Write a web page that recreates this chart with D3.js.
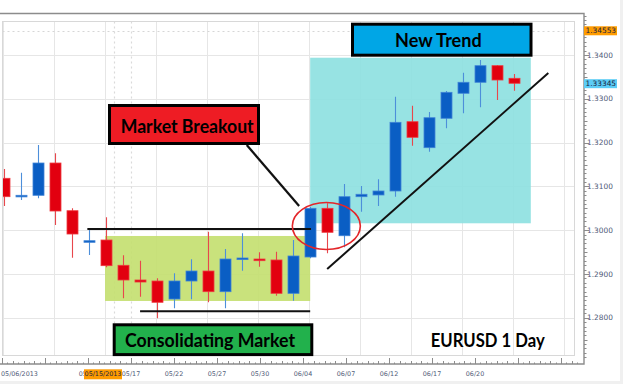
<!DOCTYPE html>
<html>
<head>
<meta charset="utf-8">
<script src="https://cdn.jsdelivr.net/npm/d3@7"></script>
<style>
body { margin:0; background:#fff; }
svg { display:block; }
</style>
</head>
<body>
<div class="canvas"></div>
<script>
// daily candles EURUSD
const dates = ["05/06","05/07","05/08","05/09","05/10","05/13","05/14","05/15","05/16","05/17",
  "05/20","05/21","05/22","05/23","05/24","05/27","05/28","05/29","05/30","05/31",
  "06/03","06/04","06/05","06/06","06/07","06/10","06/11","06/12","06/13","06/14","06/17"];
const open  = [1.31185,1.30765,1.30797,1.31534,1.30445,1.29724,1.29776,1.29199,1.28863,1.28840,
  1.28429,1.28840,1.29068,1.28596,1.29336,1.29342,1.29320,1.28559,1.29388,1.30500,
  1.29874,1.30765,1.30804,1.30895,1.32477,1.31884,1.32555,1.33126,1.33377,1.33756,1.33468];
const high  = [1.31397,1.31313,1.31945,1.31756,1.30500,1.30005,1.30295,1.29427,1.29304,1.28902,
  1.29016,1.29336,1.29966,1.29571,1.29929,1.29495,1.29509,1.29776,1.30537,1.30614,
  1.31055,1.31009,1.31162,1.33048,1.32842,1.32699,1.33178,1.33596,1.33886,1.33770,1.33566];
const low   = [1.30553,1.30689,1.30728,1.30119,1.29372,1.29434,1.29153,1.28445,1.28482,1.27989,
  1.28217,1.28422,1.28354,1.28217,1.29075,1.29167,1.28505,1.28390,1.29358,1.29473,
  1.29610,1.30422,1.30553,1.30765,1.31929,1.31792,1.32326,1.32669,1.32806,1.32973,1.33185];
const close = [1.30765,1.30797,1.31534,1.30438,1.29913,1.29760,1.29190,1.28863,1.28817,1.28354,
  1.28840,1.29068,1.28596,1.29342,1.29365,1.29304,1.28559,1.29411,1.30500,1.29952,
  1.30765,1.30820,1.30895,1.32463,1.32121,1.32568,1.33148,1.33377,1.33756,1.33429,1.33354];

const priceTicks = [1.28, 1.29, 1.30, 1.31, 1.32, 1.33, 1.34];
const xTickLabels = ["05/06/2013","","05/14","05/17","05/22","05/27","05/30","06/04","06/07","06/12","06/17","06/20"];
const highlightDate = "05/15/2013";
const priceMarkers = [
  {label:"1.34553", value:1.34553, color:"#ff9c00"},
  {label:"1.33345", value:1.33345, color:"#5ccdf6"}
];

const dimension = {'width':623, 'height':384};
const plot = {'left':2.5, 'top':21.5, 'right':574.5, 'bottom':355.5};
const frame = {'top':13.5, 'right':584, 'bottom':364};

const svg = d3.select('.canvas')
              .append('svg')
              .attr('width', dimension.width)
              .attr('height', dimension.height);

// grey margins of the screenshot
svg.append('rect').attr('x',0).attr('y',381).attr('width',623).attr('height',3).attr('fill','#f0f0f0');
svg.append('rect').attr('x',620).attr('y',0).attr('width',3).attr('height',384).attr('fill','#f0f0f0');

// scales
const x = d3.scaleLinear().domain([0, dates.length - 1]).range([4, 514.3]);
const y = d3.scaleLinear().domain([1.28, 1.34]).range([317.8, 55]);
const xAxis = d3.scalePoint().domain(d3.range(xTickLabels.length)).range([2, 475]);

svg.append('clipPath').attr('id','plotclip')
   .append('rect')
   .attr('x', plot.left).attr('y', plot.top)
   .attr('width', plot.right - plot.left).attr('height', plot.bottom - plot.top);

const graph = svg.append('g').attr('clip-path','url(#plotclip)');

// grid
graph.selectAll('.hgrid').data(priceTicks).enter().append('line')
     .attr('x1', plot.left).attr('x2', plot.right)
     .attr('y1', d => Math.round(y(d)) + 0.5).attr('y2', d => Math.round(y(d)) + 0.5)
     .attr('stroke','#e6e6e6');
graph.selectAll('.vgrid').data(d3.range(0, 34, 3)).enter().append('line')
     .attr('x1', d => Math.round(x(d)) - 0.5).attr('x2', d => Math.round(x(d)) - 0.5)
     .attr('y1', plot.top).attr('y2', plot.bottom)
     .attr('stroke','#e6e6e6');

// dotted lines: last high and selected day
graph.append('line')
     .attr('x1', plot.left).attr('x2', plot.right)
     .attr('y1', Math.round(y(priceMarkers[0].value)) + 0.5).attr('y2', Math.round(y(priceMarkers[0].value)) + 0.5)
     .attr('stroke','#d6d6d6').attr('stroke-dasharray','2,3');
const selIdx = dates.indexOf(highlightDate.slice(0,5));
graph.selectAll('.vsel').data([selIdx - 0.5, selIdx + 0.5]).enter().append('line')
     .attr('x1', d => Math.round(x(d)) - 0.5).attr('x2', d => Math.round(x(d)) - 0.5)
     .attr('y1', plot.top).attr('y2', plot.bottom)
     .attr('stroke','#dadada').attr('stroke-width',1.2).attr('stroke-dasharray','2,3');

// shaded zones
graph.append('rect')
     .attr('x', x(5.94)).attr('y', y(1.29868))
     .attr('width', x(18) - x(5.94)).attr('height', y(1.28384) - y(1.29868))
     .attr('fill','#c3df6e').attr('opacity',0.9);
graph.append('rect')
     .attr('x', x(18)).attr('y', y(1.33938))
     .attr('width', x(30.97) - x(18)).attr('height', y(1.30158) - y(1.33938))
     .attr('fill','#8ee1e1').attr('opacity',0.92);

// candles
const candles = dates.map((d, i) => ({date:d, i:i, o:open[i], h:high[i], l:low[i], c:close[i]}));
const red = '#e2000f', redEdge = '#ee3a3f', blue = '#0a5ec4', blueEdge = '#3f83d6';
const bodyW = 11;

graph.selectAll('.wick').data(candles).enter().append('line')
     .attr('x1', d => Math.round(x(d.i)) + 0.5).attr('x2', d => Math.round(x(d.i)) + 0.5)
     .attr('y1', d => y(d.h)).attr('y2', d => y(d.l))
     .attr('stroke', d => d.c >= d.o ? '#4d8fda' : '#e8474c')
     .attr('stroke-width', 1.1);

graph.selectAll('.body').data(candles).enter().append('rect')
     .attr('x', d => Math.round(x(d.i)) + 0.5 - bodyW / 2)
     .attr('y', d => y(Math.max(d.o, d.c)))
     .attr('width', bodyW)
     .attr('height', d => Math.max(1.6, Math.abs(y(d.o) - y(d.c))))
     .attr('fill', d => d.c >= d.o ? blue : red)
     .attr('stroke', d => d.c >= d.o ? blueEdge : redEdge)
     .attr('stroke-width', 0.8);

// support / resistance lines
const hLines = [
  {from:4.9, to:18.05, p:1.30027},
  {from:8, to:18, p:1.28149}
];
graph.selectAll('.sr').data(hLines).enter().append('line')
     .attr('x1', d => x(d.from)).attr('x2', d => x(d.to))
     .attr('y1', d => y(d.p)).attr('y2', d => y(d.p))
     .attr('stroke','#111').attr('stroke-width',2);

// trend line
graph.append('line')
     .attr('x1', x(19)).attr('y1', y(1.29114))
     .attr('x2', x(32)).attr('y2', y(1.33589))
     .attr('stroke','#111').attr('stroke-width',2);

// breakout circle
graph.append('ellipse')
     .attr('cx', x(18.95)).attr('cy', y(1.30096))
     .attr('rx', 34).attr('ry', 23.5)
     .attr('fill','none').attr('stroke','#e3262a').attr('stroke-width',1.6);

// pointer from label
graph.append('line')
     .attr('x1', x(14.27)).attr('y1', y(1.31945))
     .attr('x2', x(17.35)).attr('y2', y(1.30553))
     .attr('stroke','#111').attr('stroke-width',2.2);

// inner plot border
svg.append('rect')
   .attr('x', plot.left).attr('y', plot.top)
   .attr('width', plot.right - plot.left).attr('height', plot.bottom - plot.top)
   .attr('fill','none').attr('stroke','#d8d8d8');

// outer frame
svg.append('path')
   .attr('d', `M0,${frame.top}H${frame.right}V${frame.bottom}H0`)
   .attr('fill','none').attr('stroke','#8c8c8c').attr('stroke-width',1.4);

// right price axis
const minorP = d3.range(1271, 1350).map(v => v / 1000).filter(v => y(v) > frame.top + 1 && y(v) < frame.bottom - 1);
svg.selectAll('.ptick').data(minorP).enter().append('line')
   .attr('x1', frame.right).attr('x2', (d, i) => frame.right + (Math.round(d * 1000) % 10 === 0 ? 5 : (Math.round(d * 1000) % 5 === 0 ? 3.5 : 2.5)))
   .attr('y1', d => Math.round(y(d)) + 0.5).attr('y2', d => Math.round(y(d)) + 0.5)
   .attr('stroke','#8c8c8c');
svg.selectAll('.plabel').data(priceTicks).enter().append('text')
   .attr('x', frame.right + 3).attr('y', d => y(d))
   .attr('dy','0.35em')
   .attr('font-family','DejaVu Sans').attr('font-size',7.4)
   .attr('fill','#4f5a78')
   .text(d => d.toFixed(4));

const pm = svg.selectAll('.pmark').data(priceMarkers).enter().append('g');
pm.append('rect')
  .attr('x', frame.right).attr('y', d => y(d.value) - 4.5)
  .attr('width', 33).attr('height', 9)
  .attr('fill', d => d.color);
pm.append('text')
  .attr('x', frame.right + 1.5).attr('y', d => y(d.value))
  .attr('dy','0.35em')
  .attr('font-family','DejaVu Sans').attr('font-size',7.4)
  .attr('fill','#1a2340')
  .text(d => d.label);

// bottom date axis
const step = (xAxis(1) - xAxis(0)) / 8;
const minorX = d3.range(0, Math.floor((frame.right - xAxis(0)) / step)).map(k => ({k:k, px:xAxis(0) + k * step}));
svg.selectAll('.xtick').data(minorX).enter().append('line')
   .attr('x1', d => Math.round(d.px) + 0.5).attr('x2', d => Math.round(d.px) + 0.5)
   .attr('y1', frame.bottom).attr('y2', d => frame.bottom - (d.k % 8 === 0 ? 6 : (d.k % 2 === 0 ? 3 : 1.5)))
   .attr('stroke','#8c8c8c');
svg.selectAll('.xlabel').data(xTickLabels).enter().append('text')
   .attr('x', (d, i) => i === 0 ? 1 : xAxis(i))
   .attr('y', 374).attr('dy','0.35em')
   .attr('text-anchor', (d, i) => i === 0 ? 'start' : 'middle')
   .attr('font-family','DejaVu Sans').attr('font-size',6.4)
   .attr('fill','#4f5a78')
   .text(d => d);
svg.append('rect').attr('x',84).attr('y',369.3).attr('width',38).attr('height',10).attr('fill','#ff9c00');
svg.append('text').attr('x',103).attr('y',374).attr('dy','0.35em')
   .attr('text-anchor','middle')
   .attr('font-family','DejaVu Sans').attr('font-size',6.4)
   .attr('fill','#1a2340').text(highlightDate);

// callout boxes
const callouts = [
  {text:'Market Breakout', fill:'#ee1c24', x:109.5, y:105.5, w:149, h:38, tx:120.7, ty:133.3, tw:133},
  {text:'New Trend', fill:'#00a6e6', x:352.5, y:24.2, w:178.5, h:31, tx:395, ty:47.3, tw:86.7},
  {text:'Consolidating Market', fill:'#22b14c', x:114.2, y:324.8, w:197.6, h:29.8, tx:125, ty:346.7, tw:170}
];
const co = svg.selectAll('.callout').data(callouts).enter().append('g');
co.append('rect')
  .attr('x', d => d.x).attr('y', d => d.y).attr('width', d => d.w).attr('height', d => d.h)
  .attr('fill', d => d.fill).attr('stroke','#000').attr('stroke-width',3);
co.append('text')
  .attr('x', d => d.tx).attr('y', d => d.ty)
  .attr('font-family','Lato').attr('font-weight','bold').attr('font-size',18)
  .attr('textLength', d => d.tw).attr('lengthAdjust','spacingAndGlyphs')
  .attr('fill','#000').text(d => d.text);

svg.append('text')
   .attr('x', 430.7).attr('y', 346.7)
   .attr('font-family','Lato').attr('font-weight','bold').attr('font-size',18)
   .attr('textLength',114).attr('lengthAdjust','spacingAndGlyphs')
   .attr('fill','#000').text('EURUSD 1 Day');
</script>
</body>
</html>
